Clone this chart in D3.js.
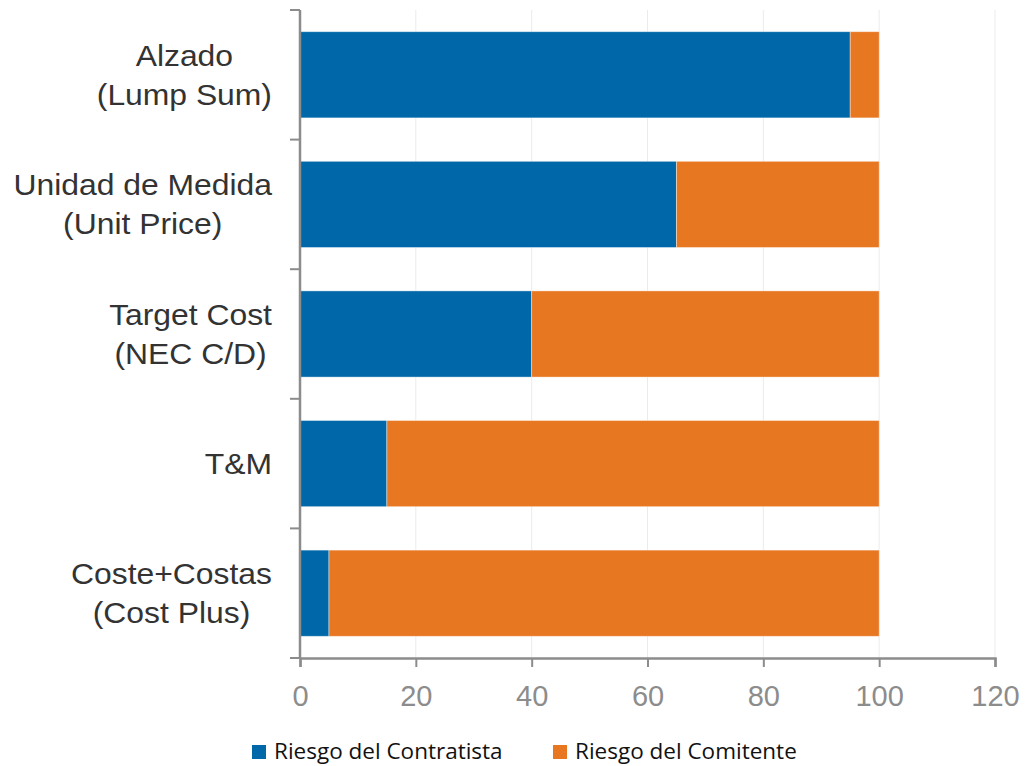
<!DOCTYPE html>
<html>
<head>
<meta charset="utf-8">
<script src="https://cdn.jsdelivr.net/npm/d3@7"></script>
<style>
  body { margin: 0; background: #fff; }
  svg { display: block; }
</style>
</head>
<body>
<svg id="chart" width="1027" height="766"></svg>
<script>
// data
let categories = [
  ['Alzado', '(Lump Sum)'],
  ['Unidad de Medida', '(Unit Price)'],
  ['Target Cost', '(NEC C/D)'],
  ['T&M'],
  ['Coste+Costas', '(Cost Plus)']
]
let contratista = [95, 65, 40, 15, 5]
let comitente = [5, 35, 60, 85, 95]
let seriesNames = ['Riesgo del Contratista', 'Riesgo del Comitente']
let seriesColors = ['#0068a9', '#e87722']
let xTicks = [0, 20, 40, 60, 80, 100, 120]

let svg = d3.select('#chart')
let plotLeft = 300, plotRight = 995, plotTop = 10, plotBottom = 658

let x = d3.scaleLinear().domain([0, 120]).range([plotLeft, plotRight])
let y = d3.scaleBand().domain(d3.range(categories.length)).range([plotTop, plotBottom]).paddingInner(0.335).paddingOuter(0.1675)

// gridlines
svg.append('g')
  .selectAll('line')
  .data(xTicks.slice(1))
  .enter()
  .append('line')
  .attr('x1', d => x(d)).attr('x2', d => x(d))
  .attr('y1', plotTop).attr('y2', plotBottom)
  .attr('stroke', '#ebebeb')
  .attr('stroke-width', 1)

// stacked bars
let rows = categories.map((c, i) => ({ i: i, a: contratista[i], b: comitente[i] }))
let stack = d3.stack().keys(['a', 'b'])(rows)

svg.append('g')
  .selectAll('g')
  .data(stack)
  .enter()
  .append('g')
  .attr('fill', (d, k) => seriesColors[k])
  .selectAll('rect')
  .data(d => d)
  .enter()
  .append('rect')
  .attr('x', d => x(d[0]))
  .attr('width', d => x(d[1]) - x(d[0]))
  .attr('y', d => y(d.data.i))
  .attr('height', y.bandwidth())
  .attr('stroke', 'rgba(255,255,255,0.5)')
  .attr('stroke-width', 0.8)

// x axis
let xAxis = svg.append('g')
  .attr('transform', 'translate(0,' + plotBottom + ')')
  .call(d3.axisBottom(x).tickValues(xTicks).tickSize(9).tickPadding(18))
xAxis.select('.domain').attr('stroke', '#8c8c8c').attr('stroke-width', 2.5)
xAxis.selectAll('.tick line').attr('stroke', '#8c8c8c').attr('stroke-width', 2)
xAxis.selectAll('.tick text')
  .attr('fill', '#8c8c8c')
  .style('font-family', 'Liberation Sans, Arial, sans-serif')
  .style('font-size', '29px')

// y axis line and band boundary ticks
let yAx = svg.append('g')
yAx.append('line')
  .attr('x1', plotLeft).attr('x2', plotLeft)
  .attr('y1', plotTop).attr('y2', plotBottom)
  .attr('stroke', '#8c8c8c').attr('stroke-width', 2.5)
let step = (plotBottom - plotTop) / categories.length
yAx.selectAll('.bt')
  .data(d3.range(categories.length + 1))
  .enter()
  .append('line')
  .attr('class', 'bt')
  .attr('x1', plotLeft - 10).attr('x2', plotLeft)
  .attr('y1', d => plotTop + d * step).attr('y2', d => plotTop + d * step)
  .attr('stroke', '#8c8c8c').attr('stroke-width', 2)

// category labels: block right aligned, lines centered, a bit stretched
let labelRight = 272
let lineH = 39
let stretch = 1.08
categories.forEach((lines, i) => {
  let cy = y(i) + y.bandwidth() / 2
  let g = svg.append('g')
  let texts = lines.map((t, j) => g.append('text')
    .text(t)
    .attr('text-anchor', 'middle')
    .attr('x', 0)
    .attr('y', cy + 10.5 + (j - (lines.length - 1) / 2) * lineH)
    .attr('fill', '#333')
    .style('font-family', 'Liberation Sans, Arial, sans-serif')
    .style('font-size', '29.5px'))
  let w = d3.max(texts, t => t.node().getComputedTextLength()) * stretch
  g.attr('transform', 'translate(' + (labelRight - w / 2) + ',0) scale(' + stretch + ',1)')
})

// legend
let legendX = [252, 553]
let lg = svg.append('g')
seriesNames.forEach((name, k) => {
  lg.append('rect')
    .attr('x', legendX[k]).attr('y', 745)
    .attr('width', 14).attr('height', 14)
    .attr('fill', seriesColors[k])
  lg.append('text')
    .attr('x', legendX[k] + 22).attr('y', 759)
    .text(name)
    .attr('fill', '#111')
    .style('font-family', 'Open Sans, Noto Sans, sans-serif')
    .style('font-size', '22.5px')
})
</script>
</body>
</html>
